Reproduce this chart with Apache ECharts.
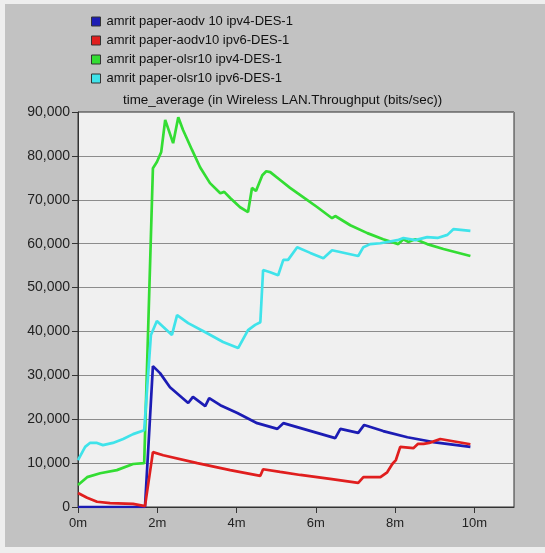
<!DOCTYPE html>
<html>
<head>
<meta charset="utf-8">
<script src="https://cdn.jsdelivr.net/npm/echarts@6/dist/echarts.min.js"></script>
<style>
  html, body { margin: 0; padding: 0; background: #eeeeee; }
  #chart { width: 545px; height: 553px; }
</style>
</head>
<body>
<div id="chart"></div>
<script>
// Simulation time in minutes and time-averaged WLAN throughput (bits/sec)
const seriesNames = [
  'amrit paper-aodv 10 ipv4-DES-1',
  'amrit paper-aodv10 ipv6-DES-1',
  'amrit paper-olsr10 ipv4-DES-1',
  'amrit paper-olsr10 ipv6-DES-1'
];
const seriesColors = ['#1c1cb4', '#e01e1e', '#33dd33', '#3fe3ea'];

const aodvV4Time = [0, 1.69, 1.89, 2.07, 2.32, 2.78, 2.90, 3.21, 3.31, 3.59, 4.02, 4.52, 5.03, 5.18, 5.53, 6.49, 6.62, 7.07, 7.22, 7.70, 8.31, 8.96, 9.90];
const aodvV4Val  = [0, 0, 32100, 30500, 27300, 23700, 25100, 23000, 24800, 23200, 21400, 19100, 17800, 19100, 18200, 15700, 17800, 16900, 18700, 17300, 15900, 14800, 13700];

const aodvV6Time = [0, 0.23, 0.48, 0.81, 1.39, 1.69, 1.89, 2.15, 3.01, 3.84, 4.60, 4.67, 5.10, 5.61, 6.36, 7.07, 7.20, 7.63, 7.80, 7.93, 8.02, 8.13, 8.46, 8.58, 8.72, 8.86, 8.96, 9.14, 9.90];
const aodvV6Val  = [3200, 2100, 1200, 900, 700, 200, 12500, 11800, 10000, 8400, 7100, 8600, 8000, 7300, 6400, 5500, 6800, 6800, 7900, 9800, 10700, 13700, 13400, 14400, 14400, 14600, 14900, 15500, 14300];

const olsrV4Time = [0, 0.23, 0.56, 0.98, 1.39, 1.67, 1.89, 1.99, 2.10, 2.20, 2.40, 2.53, 2.65, 2.88, 3.08, 3.33, 3.59, 3.69, 3.84, 4.09, 4.29, 4.39, 4.49, 4.65, 4.75, 4.85, 5.10, 5.35, 5.68, 6.04, 6.41, 6.49, 6.87, 7.30, 7.70, 8.08, 8.21, 8.33, 8.51, 8.81, 9.22, 9.90];
const olsrV4Val  = [5000, 6800, 7700, 8400, 9800, 10000, 77200, 78600, 80900, 88200, 82900, 88800, 85900, 81300, 77400, 73800, 71500, 71800, 70400, 68300, 67200, 72700, 72000, 75600, 76500, 76300, 74500, 72700, 70600, 68300, 65800, 66300, 64200, 62400, 61000, 59900, 61000, 60400, 61000, 59900, 58800, 57200];

const olsrV6Time = [0, 0.18, 0.30, 0.48, 0.63, 0.88, 1.14, 1.39, 1.67, 1.84, 1.99, 2.37, 2.50, 2.78, 3.26, 3.66, 4.04, 4.29, 4.47, 4.60, 4.67, 4.85, 5.05, 5.18, 5.30, 5.53, 5.86, 6.19, 6.41, 7.07, 7.20, 7.37, 7.63, 8.06, 8.21, 8.51, 8.81, 9.07, 9.32, 9.47, 9.90];
const olsrV6Val  = [10700, 13700, 14600, 14600, 14100, 14600, 15500, 16600, 17500, 39200, 42400, 39200, 43700, 41900, 39600, 37600, 36200, 40300, 41500, 42100, 54000, 53500, 52800, 56300, 56300, 59200, 57900, 56700, 58500, 57200, 59200, 59900, 60100, 60800, 61300, 60800, 61500, 61300, 62000, 63300, 62900];

const xTicks = [0, 2, 4, 6, 8, 10];

const times = [aodvV4Time, aodvV6Time, olsrV4Time, olsrV6Time];
const values = [aodvV4Val, aodvV6Val, olsrV4Val, olsrV6Val];

const font = '"Liberation Sans", Arial, sans-serif';

const chart = echarts.init(document.getElementById('chart'), null, { renderer: 'canvas' });

chart.setOption({
  backgroundColor: '#eeeeee',
  animation: false,
  graphic: [{
    type: 'rect',
    z: -10,
    silent: true,
    shape: { x: 5, y: 4, width: 540, height: 543 },
    style: { fill: '#c2c2c2' }
  }],
  title: {
    text: 'time_average (in Wireless LAN.Throughput (bits/sec))',
    left: 123,
    top: 94,
    padding: 0,
    textStyle: { fontFamily: font, fontSize: 13.4, fontWeight: 'normal', color: '#111' }
  },
  legend: {
    orient: 'vertical',
    left: 91,
    top: 14,
    padding: 0,
    itemWidth: 9,
    itemHeight: 9,
    itemGap: 4,
    icon: 'rect',
    selectedMode: false,
    itemStyle: { borderColor: '#333', borderWidth: 1 },
    textStyle: { fontFamily: font, fontSize: 13, color: '#111', lineHeight: 15, padding: [0, 0, 0, 1] },
    data: seriesNames
  },
  grid: {
    left: 78, top: 112, right: 31, bottom: 46,
    show: true,
    backgroundColor: '#f0f0f0',
    borderColor: '#333',
    borderWidth: 1
  },
  xAxis: {
    type: 'value',
    min: 0,
    max: 11,
    interval: 2,
    axisLine: { lineStyle: { color: '#333', width: 1 } },
    axisTick: { show: true, length: 6, customValues: xTicks, lineStyle: { color: '#333' } },
    axisLabel: {
      customValues: xTicks,
      margin: 10,
      fontFamily: font, fontSize: 13, color: '#222',
      formatter: v => v + 'm'
    },
    splitLine: { show: false }
  },
  yAxis: {
    type: 'value',
    min: 0,
    max: 90000,
    interval: 10000,
    axisLine: { show: true, lineStyle: { color: '#333', width: 1 } },
    axisTick: { show: true, length: 6, lineStyle: { color: '#333' } },
    axisLabel: {
      margin: 8,
      fontFamily: font, fontSize: 14, color: '#222',
      formatter: v => v.toLocaleString('en-US')
    },
    splitLine: { show: true, lineStyle: { color: '#8c8c8c', width: 1 } }
  },
  series: seriesNames.map((name, i) => ({
    name,
    type: 'line',
    color: seriesColors[i],
    showSymbol: false,
    symbol: 'none',
    smooth: false,
    lineStyle: { width: 2.7, color: seriesColors[i] },
    itemStyle: { color: seriesColors[i] },
    data: times[i].map((t, k) => [t, values[i][k]])
  }))
});
</script>
</body>
</html>
